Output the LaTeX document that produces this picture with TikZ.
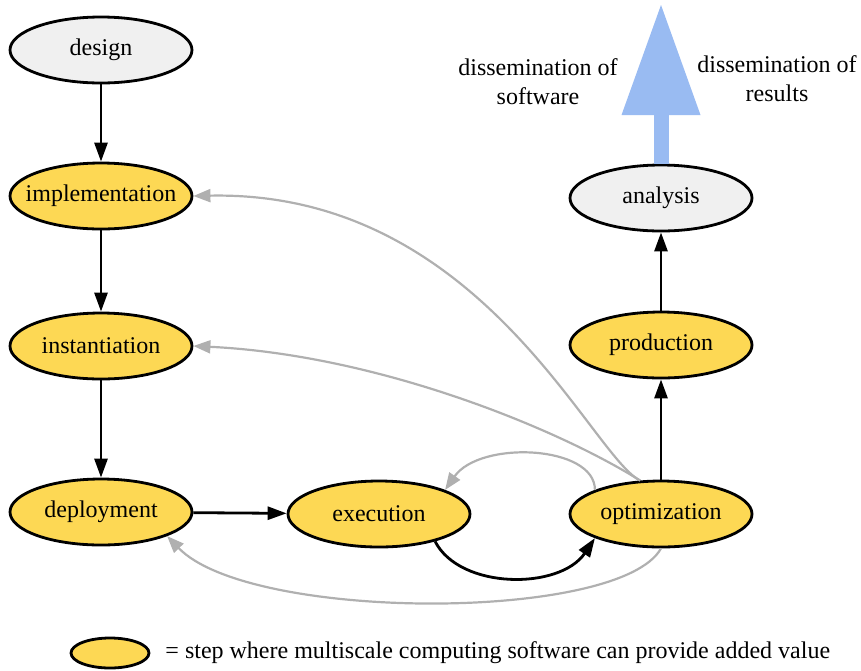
\documentclass[tikz,border=0pt]{standalone}
\usepackage{fontspec}
\setmainfont{Liberation Serif}
\usetikzlibrary{arrows.meta, shapes.geometric}
\definecolor{stepyellow}{RGB}{253,216,84}
\definecolor{stepgray}{RGB}{240,240,240}
\definecolor{edgegray}{RGB}{176,176,176}
\definecolor{flowblue}{RGB}{153,187,242}

\begin{document}
\begin{tikzpicture}[x = 0.5pt, y = -0.5pt, font = \fontsize{12}{14.5}\selectfont,
    stage/.style = {shape = ellipse, draw, line width = 1.4pt, minimum width = 91pt, minimum height = 33pt, inner sep = 0pt,
        execute at begin node = \hbox to 0pt\bgroup\hss, execute at end node = \hss\egroup},
    valuestage/.style = {stage, fill = stepyellow},
    plainstage/.style = {stage, fill = stepgray},
    flow/.style = {line width = 1.4pt, -{Triangle[length = 9.5pt, width = 6.5pt]}},
    feedback/.style = {line width = 1.1pt, draw = edgegray, -{Triangle[length = 8.5pt, width = 6.5pt]}}]
    \useasboundingbox (0,0) rectangle (861,670);

    \node [plainstage] (design) at (101,50) {design};
    \node [valuestage] (impl) at (101,196) {implementation};
    \node [valuestage] (inst) at (101,346) {instantiation};
    \node [valuestage] (depl) at (101,512) {deployment};
    \node [valuestage] (exec) at (379,514) {execution};
    \node [valuestage] (optim) at (661,514) {optimization};
    \node [valuestage] (prod) at (661,345) {production};
    \node [plainstage] (anal) at (661,198) {analysis};

    \coordinate (outlet) at (661,5);
    \draw [flowblue, line width = 7.5pt, -{Triangle[length = 55pt, width = 39.5pt, line width = 0pt]}] (anal.north) -- (outlet);
    \node [align = center] (softtext) at (538,82) {dissemination of\\software};
    \node [align = center] (restext) at (777,79) {dissemination of\\results};

    \draw [flow] (design) -- (impl);
    \draw [flow] (impl) -- (inst);
    \draw [flow] (inst) -- (depl);
    \draw [flow] (depl) -- (exec);
    \draw [flow] (exec.-26) .. controls (460,590) and (560,590) .. (optim.200);
    \draw [flow] (optim) -- (prod);
    \draw [flow] (prod) -- (anal);

    \draw [feedback] (optim.122) .. controls (590,455) and (480,190) .. (impl.east);
    \draw [feedback] (optim.122) .. controls (560,430) and (380,355) .. (inst.east);
    \draw [feedback] (optim.160) .. controls (595,445) and (480,440) .. (exec.20);
    \draw [feedback] (optim.south) .. controls (620,622) and (250,622) .. (depl.-20);

    \node [valuestage, minimum width = 39pt, minimum height = 15pt] (key) at (110,653) {};
    \node [anchor = west, xshift = 4pt] (keytext) at (key.east) {= step where multiscale computing software can provide added value};
\end{tikzpicture}
\end{document}
